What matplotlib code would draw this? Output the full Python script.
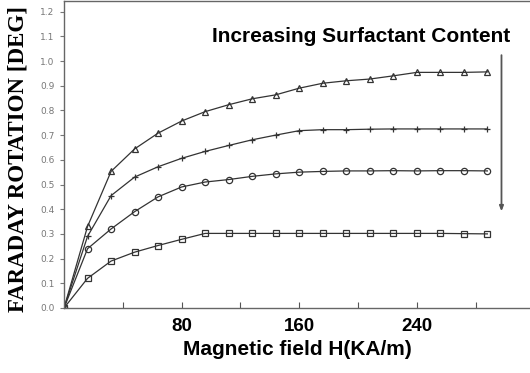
import matplotlib
matplotlib.use("Agg")
import matplotlib.pyplot as plt
import numpy as np

# Applied field (kA/m) and Faraday rotation (deg) for four surfactant contents
field = [0, 16, 32, 48, 64, 80, 96, 112, 128, 144, 160, 176, 192, 208, 224, 240, 256, 272, 288]
rot_triangle = [0, 0.33, 0.553, 0.644, 0.708, 0.757, 0.795, 0.823, 0.847, 0.863, 0.89,
                0.91, 0.92, 0.927, 0.94, 0.954, 0.954, 0.954, 0.956]
rot_plus = [0, 0.29, 0.455, 0.53, 0.572, 0.606, 0.634, 0.658, 0.681, 0.70, 0.718,
            0.722, 0.722, 0.724, 0.725, 0.725, 0.725, 0.725, 0.725]
rot_circle = [0, 0.24, 0.32, 0.39, 0.45, 0.49, 0.51, 0.52, 0.533, 0.543, 0.55,
              0.553, 0.555, 0.555, 0.556, 0.555, 0.556, 0.556, 0.555]
rot_square = [0, 0.12, 0.19, 0.226, 0.253, 0.278, 0.302, 0.302, 0.302, 0.302, 0.302,
              0.302, 0.302, 0.302, 0.302, 0.302, 0.302, 0.301, 0.30]

y_ticks = [0.0, 0.1, 0.2, 0.3, 0.4, 0.5, 0.6, 0.7, 0.8, 0.9, 1.0, 1.1, 1.2]
x_minor = [40, 80, 120, 160, 200, 240, 280]
x_labels = [80, 160, 240]

fig = plt.figure(figsize=(5.30, 3.73), dpi=100)
ax = fig.add_axes([0.1208, 0.1743, 0.8792, 0.8230])

ink = "#333333"
series = [
    (rot_triangle, "^", "none"),
    (rot_plus, "+", ink),
    (rot_circle, "o", "none"),
    (rot_square, "s", "none"),
]
for vals, mk, fc in series:
    ax.plot(field, vals, color=ink, lw=0.9, marker=mk, markersize=4.5,
            markerfacecolor=fc, markeredgecolor=ink, markeredgewidth=0.9)

ax.set_xlim(0, 317)
ax.set_ylim(0, 1.243)

# y axis: small grey labels, outward ticks
ax.set_yticks(y_ticks)
ax.set_yticklabels([f"{v:.1f}" for v in y_ticks])
ax.tick_params(axis="y", direction="out", length=3, width=0.8, colors="#777777",
               labelsize=6.5, pad=4)

# x axis: inward ticks every 40, labels at 80/160/240
ax.set_xticks(x_minor)
ax.set_xticklabels([str(v) if v in x_labels else "" for v in x_minor])
ax.tick_params(axis="x", direction="in", length=4, width=0.8, colors="#555555",
               labelsize=13.5, pad=7)
for lbl in ax.get_xticklabels():
    lbl.set_fontweight("bold")
    lbl.set_color("black")
    lbl.set_family("Liberation Sans")

for side in ["left", "bottom", "top"]:
    ax.spines[side].set_color("#666666")
    ax.spines[side].set_linewidth(1.0)
ax.spines["right"].set_visible(False)

ax.set_xlabel("Magnetic field H(KA/m)", fontsize=15, fontweight="bold",
              family="Liberation Sans", labelpad=4)
fig.text(0.034, 0.575, "FARADAY ROTATION [DEG]", rotation=90, ha="center", va="center",
         fontsize=16.5, fontweight="bold", family="Liberation Serif")

ax.text(202, 1.10, "Increasing Surfactant Content", ha="center", va="center",
        fontsize=15, fontweight="bold", family="Liberation Sans")
ax.annotate("", xy=(297.6, 0.38), xytext=(297.6, 1.035),
            arrowprops=dict(arrowstyle="-|>,head_length=0.3,head_width=0.12",
                            color="#555555", lw=1.3))

fig.savefig("out.png", dpi=100, facecolor="white")
